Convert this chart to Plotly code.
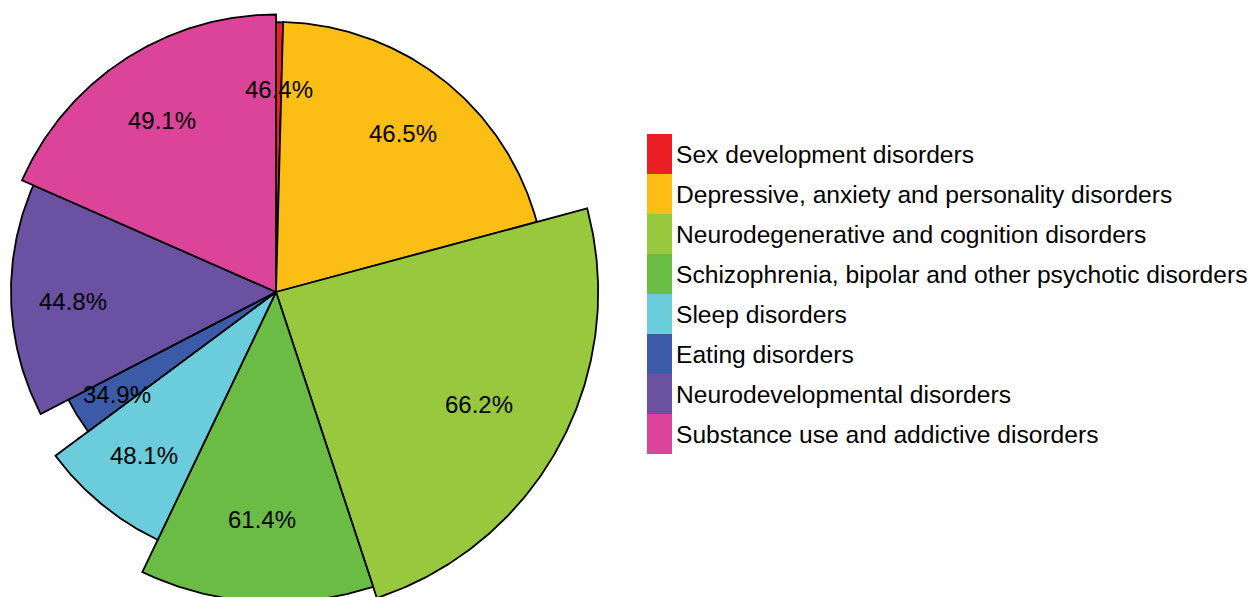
import numpy as np
import plotly.graph_objects as go

categories = [
    "Sex development disorders",
    "Depressive, anxiety and personality disorders",
    "Neurodegenerative and cognition disorders",
    "Schizophrenia, bipolar and other psychotic disorders",
    "Sleep disorders",
    "Eating disorders",
    "Neurodevelopmental disorders",
    "Substance use and addictive disorders",
]
percent = [46.4, 46.5, 66.2, 61.4, 48.1, 34.9, 44.8, 49.1]
# angular share of each slice (% of the full circle)
share = [0.42, 20.4, 24.1, 12.15, 7.75, 2.55, 14.2, 18.4]
colors = ["#EC1F26", "#FCBE14", "#97C83E", "#6BBC45", "#6BCDDB", "#3B5BA8", "#6A51A2", "#DB4498"]

# the page body has an 8px margin, so the figure itself is 8px smaller
W, H = 1250, 589
CX, CY = 268, 284      # pie centre in pixels (from top-left of the figure)
PX = 39.6              # pixels per radial unit
FONT = "Liberation Sans, Arial, Helvetica, sans-serif"

# slice area proportional to the percentage -> radius ~ sqrt
radius = np.sqrt(np.array(percent))
sweep = np.array(share) / sum(share) * 360
ends = np.cumsum(sweep)
starts = ends - sweep

fig = go.Figure()
for name, r, a0, a1, col in zip(categories, radius, starts, ends, colors):
    t = np.radians(np.linspace(a0, a1, max(int((a1 - a0) * 2), 2) + 1))
    xs = np.concatenate([[0], r * np.sin(t), [0]])
    ys = np.concatenate([[0], r * np.cos(t), [0]])
    fig.add_trace(go.Scatter(
        x=xs, y=ys, mode="lines", fill="toself", fillcolor=col,
        line=dict(color="#000000", width=1.8), name=name,
        hoverinfo="name", showlegend=False,
    ))

# percentage labels, placed along the middle of each slice
mid = np.radians((starts + ends) / 2)
label_r = 1.87 + 0.486 * radius
for p, lx, ly in zip(percent, label_r * np.sin(mid), label_r * np.cos(mid)):
    fig.add_annotation(x=lx, y=ly, text=f"{p:.1f}%", showarrow=False, yshift=-3,
                       font=dict(family=FONT, size=24, color="#000000"))

# legend: tall colour blocks stacked, labels to the right
for i, (name, col) in enumerate(zip(categories, colors)):
    top = 126 + 40 * i
    fig.add_shape(type="rect", xref="paper", yref="paper",
                  x0=639 / W, x1=664 / W, y0=1 - top / H, y1=1 - (top + 40) / H,
                  fillcolor=col, line=dict(width=0))
    fig.add_annotation(xref="paper", yref="paper", x=666 / W, y=1 - (top + 20) / H,
                       text=name, showarrow=False, xanchor="left", yanchor="middle",
                       font=dict(family=FONT, size=24.6, color="#000000"))

fig.update_layout(
    width=W, height=H,
    margin=dict(l=0, r=0, t=0, b=0),
    paper_bgcolor="white", plot_bgcolor="white",
    xaxis=dict(range=[-CX / PX, (W - CX) / PX], visible=False, fixedrange=True),
    yaxis=dict(range=[-(H - CY) / PX, CY / PX], visible=False, fixedrange=True),
    showlegend=False,
)
fig.write_html("out.html")
